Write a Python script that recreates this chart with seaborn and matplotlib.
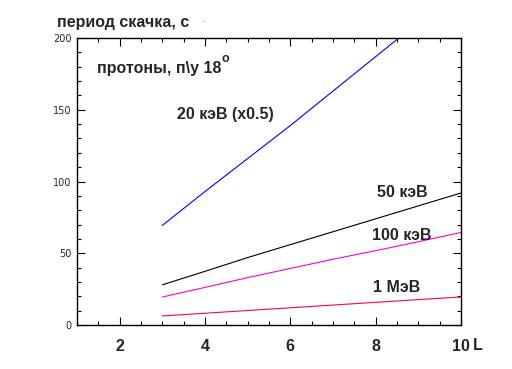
import numpy as np
import pandas as pd
import matplotlib
matplotlib.use("Agg")
import matplotlib.pyplot as plt
import seaborn as sns
from matplotlib.ticker import MultipleLocator

L = [3, 4, 5, 6, 7, 8, 9, 10]
p20kev_half = [69.4, 93, 116, 139, 163, 187, 211, 235]
p50kev = [28, 37.4, 47, 56, 65, 74, 83, 92]
p100kev = [19.5, 26.2, 33, 39.4, 45.8, 51.8, 58, 64.5]
p1mev = [6.3, 8.2, 10.1, 12, 13.9, 15.8, 17.7, 19.5]

series_names = ["20 кэВ (x0.5)", "50 кэВ", "100 кэВ", "1 МэВ"]
series_vals = [p20kev_half, p50kev, p100kev, p1mev]
colors = ["#0000FF", "#000000", "#FF00DD", "#FF0050"]

sns.set_style("white")
plt.rcParams['font.family'] = ['Liberation Sans', 'DejaVu Sans']

df = pd.concat([pd.DataFrame({"L": L, "T": v, "s": n}) for n, v in zip(series_names, series_vals)])

W, H = 512, 369
fig = plt.figure(figsize=(5.12, 3.69), dpi=100)
ax = fig.add_axes([77/W, 1 - 325/H, 384/W, 287/H])
sns.lineplot(data=df, x="L", y="T", hue="s", palette=dict(zip(series_names, colors)),
             linewidth=0.8, legend=False, ax=ax)

ax.set_xlim(1, 10)
ax.set_ylim(0, 200)
ax.set_xlabel("")
ax.set_ylabel("")
ax.xaxis.set_major_locator(MultipleLocator(2))
ax.xaxis.set_minor_locator(MultipleLocator(0.5))
ax.yaxis.set_major_locator(MultipleLocator(50))
ax.yaxis.set_minor_locator(MultipleLocator(10))
ax.tick_params(which="both", direction="in", top=True, right=True, bottom=True, left=True,
               color="black", width=0.8)
ax.tick_params(which="major", length=6)
ax.tick_params(which="minor", length=3)
ax.set_xticks([2, 4, 6, 8, 10])
ax.set_xticklabels(["2", "4", "6", "8", "10"], fontsize=11.5, fontweight="bold")
ax.tick_params(axis="x", pad=10)
ax.tick_params(axis="y", labelsize=7, pad=4)
for lab in ax.get_yticklabels():
    lab.set_family(["DejaVu Sans"])
for s in ax.spines.values():
    s.set_color("black")
    s.set_linewidth(1.0)
ax.grid(False)

def ftext(px, py, s, size=11.5, **kw):
    fig.text(px / W, 1 - py / H, s, fontsize=size, fontweight="bold", ha="left", va="center", **kw)

ftext(57, 22, "период скачка, с")
fig.text(203/W, 1 - 21/H, ".", fontsize=5, va="center", ha="center")
ftext(97, 68, "протоны, п\\y 18")
ftext(222, 59, "o", size=9)
ftext(177, 115, "20 кэВ (x0.5)")
ftext(377, 192, "50 кэВ")
ftext(372, 236, "100 кэВ")
ftext(373, 287, "1 МэВ")
ftext(473, 346, "L")

fig.savefig("out.png", dpi=100, facecolor="white")
